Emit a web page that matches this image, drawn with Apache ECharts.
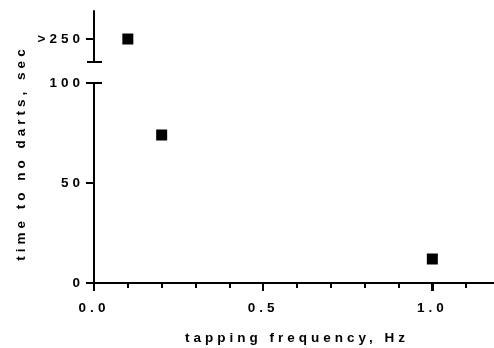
<!DOCTYPE html>
<html>
<head>
<meta charset="utf-8">
<script src="https://cdn.jsdelivr.net/npm/echarts@6/dist/echarts.min.js"></script>
<style>
html,body{margin:0;padding:0;background:#fff;}
#c{width:494px;height:348px;}
</style>
</head>
<body>
<div id="c"></div>
<script>
// letter-spaced text (as in the reference's typography)
(function () {
  const P = CanvasRenderingContext2D.prototype;
  const origFill = P.fillText;
  P.fillText = function (t, x, y, m) {
    this.letterSpacing = '4px';
    return m === undefined ? origFill.call(this, t, x, y) : origFill.call(this, t, x, y, m);
  };
})();

// Data
const xName = 'tapping frequency, Hz';
const yName = 'time to no darts, sec';
const xTicks = [0, 0.5, 1.0];
const lowerTicks = [0, 50, 100];
const upperTickValue = 250;
const upperTickLabel = '>250';
const upperPoints = [[0.1, 250]];        // plotted as ">250"
const lowerPoints = [[0.2, 74], [1.0, 12]];

const FONT = '"Liberation Sans", Arial, sans-serif';
const chart = echarts.init(document.getElementById('c'), null, {renderer: 'canvas'});

const gridLeft = 94, gridRight = -6;
const lblStyle = {color: '#000', fontFamily: FONT, fontWeight: 'bold', fontSize: 13.5};
const axLine = {show: true, onZero: false, lineStyle: {color: '#000', width: 2}};

const option = {
  animation: false,
  backgroundColor: '#fff',
  grid: [
    {left: gridLeft, right: gridRight, top: 83, bottom: 65, outerBoundsMode: 'none'},
    {left: gridLeft, right: gridRight, top: 11, bottom: 286, outerBoundsMode: 'none'}
  ],
  xAxis: [
    {
      gridIndex: 0, type: 'value', position: 'bottom', min: 0, max: 1.2, interval: 0.5,
      axisLine: axLine,
      axisTick: {show: true, length: 8, lineStyle: {color: '#000', width: 2}},
      minorTick: {show: true, splitNumber: 5, length: 5, lineStyle: {color: '#000', width: 2}},
      axisLabel: Object.assign({margin: 18, showMaxLabel: false,
        formatter: v => v.toFixed(1)}, lblStyle),
      splitLine: {show: false},
      name: xName, nameLocation: 'middle', nameGap: 48,
      nameTextStyle: lblStyle
    },
    {
      gridIndex: 1, type: 'value', min: 0, max: 1.2, show: false
    }
  ],
  yAxis: [
    {
      gridIndex: 0, type: 'value', min: 0, max: 100, interval: 50,
      axisLine: axLine,
      axisTick: {show: true, length: 8, lineStyle: {color: '#000', width: 2}},
      axisLabel: Object.assign({margin: 10}, lblStyle),
      splitLine: {show: false}
    },
    {
      gridIndex: 1, type: 'value', min: 227, max: 278,
      axisLine: axLine,
      axisTick: {show: true, length: 8, customValues: [upperTickValue], lineStyle: {color: '#000', width: 2}},
      axisLabel: Object.assign({margin: 10, customValues: [upperTickValue],
        formatter: v => (v === upperTickValue ? upperTickLabel : '')}, lblStyle),
      splitLine: {show: false}
    }
  ],
  series: [
    {type: 'scatter', xAxisIndex: 0, yAxisIndex: 0, data: lowerPoints,
     symbol: 'rect', symbolSize: 11, itemStyle: {color: '#000', opacity: 1}},
    {type: 'scatter', xAxisIndex: 1, yAxisIndex: 1, data: upperPoints,
     symbol: 'rect', symbolSize: 11, itemStyle: {color: '#000', opacity: 1}}
  ]
};
chart.setOption(option);

// axis-break marks, major x ticks and rotated y-axis title
const pUpBottom = chart.convertToPixel({xAxisIndex: 1, yAxisIndex: 1}, [0, 227]);
const pLowTop = chart.convertToPixel({xAxisIndex: 0, yAxisIndex: 0}, [0, 100]);
const pUpTop = chart.convertToPixel({xAxisIndex: 1, yAxisIndex: 1}, [0, 278]);
const pLowBot = chart.convertToPixel({xAxisIndex: 0, yAxisIndex: 0}, [0, 0]);
const midY = (pUpTop[1] + pLowBot[1]) / 2 + 6;
function brk(p) {
  return {type: 'line', z: 100, shape: {x1: p[0] - 7, y1: p[1], x2: p[0] + 8, y2: p[1]},
          style: {stroke: '#000', lineWidth: 2}};
}
const majorTicks = xTicks.map(v => {
  const p = chart.convertToPixel({xAxisIndex: 0, yAxisIndex: 0}, [v, 0]);
  return {type: 'rect', z: 100, shape: {x: Math.round(p[0]) - 1, y: Math.round(p[1]), width: 2, height: 8},
          style: {fill: '#000'}};
});
chart.setOption({
  graphic: [
    brk(pUpBottom), brk(pLowTop)
  ].concat(majorTicks).concat([
    {type: 'text', z: 100, x: 21, y: midY, rotation: Math.PI / 2,
     style: {text: yName, fill: '#000', font: 'bold 13.5px ' + FONT,
             textAlign: 'center', textVerticalAlign: 'middle'}}
  ])
});
</script>
</body>
</html>
